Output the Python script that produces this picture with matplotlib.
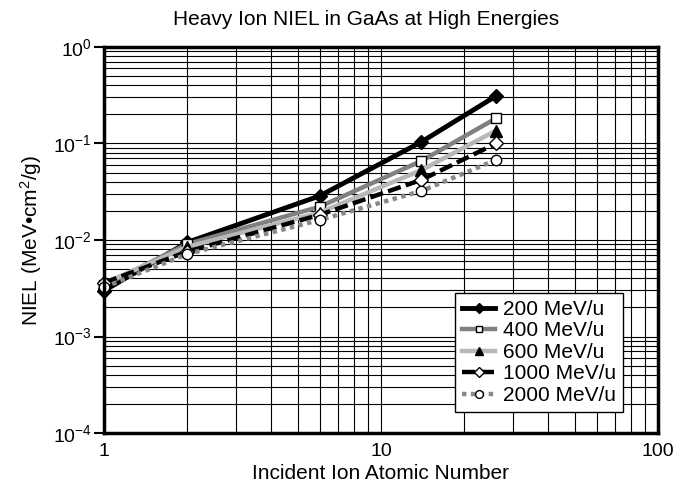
import matplotlib
matplotlib.use("Agg")
import matplotlib.pyplot as plt
from matplotlib.ticker import LogLocator, FixedLocator, NullFormatter

plt.rcParams['font.family'] = ['Liberation Sans', 'DejaVu Sans']
plt.rcParams['mathtext.fontset'] = 'custom'
plt.rcParams['mathtext.rm'] = 'Liberation Sans'
plt.rcParams['mathtext.it'] = 'Liberation Sans'
plt.rcParams['axes.unicode_minus'] = False

atomic_number = [1, 2, 6, 14, 26]
niel_200 = [0.00298, 0.00946, 0.0286, 0.104, 0.31]
niel_400 = [0.0034, 0.0091, 0.0221, 0.066, 0.182]
niel_600 = [0.00356, 0.0085, 0.0192, 0.053, 0.136]
niel_1000 = [0.0036, 0.0076, 0.0182, 0.042, 0.100]
niel_2000 = [0.00323, 0.00716, 0.0161, 0.0322, 0.0675]
series_labels = ['200 MeV/u', '400 MeV/u', '600 MeV/u', '1000 MeV/u', '2000 MeV/u']
y_tick_vals = [1e-4, 1e-3, 1e-2, 1e-1, 1e0]
y_tick_labels = ['$10^{-4}$', '$10^{-3}$', '$10^{-2}$', '$10^{-1}$', '$10^{0}$']
x_tick_vals = [1, 10, 100]
x_tick_labels = ['1', '10', '100']

fig = plt.figure(figsize=(6.84, 4.94), dpi=100)
ax = fig.add_axes([104/684, 1-433/494, (658-104)/684, (433-47)/494])
ax.set_xscale('log')
ax.set_yscale('log')
ax.set_xlim(1, 100)
ax.set_ylim(1e-4, 1)

ax.grid(True, which='both', color='black', linewidth=0.8)
ax.set_axisbelow(True)

styles = [
    dict(color='black', lw=3.5, ls='-', marker='D', ms=7, mfc='black', mec='black'),
    dict(color='#808080', lw=3.2, ls='-', marker='s', ms=6.5, mfc='white', mec='black', mew=1.0),
    dict(color='#b8b8b8', lw=3.2, ls='-', marker='^', ms=8, mfc='black', mec='black'),
    dict(color='black', lw=3.2, ls=(0, (3, 1.2)), marker='D', ms=7, mfc='white', mec='black', mew=1.0),
    dict(color='#888888', lw=3.2, ls=(0, (1, 1)), marker='o', ms=7.5, mfc='white', mec='black', mew=1.0),
]
data = [niel_200, niel_400, niel_600, niel_1000, niel_2000]
for vals, lab, st in zip(data, series_labels, styles):
    ax.plot(atomic_number, vals, label=lab, clip_on=False, **st)

ax.yaxis.set_major_locator(FixedLocator(y_tick_vals))
ax.set_yticklabels(y_tick_labels)
ax.yaxis.set_minor_locator(LogLocator(base=10, subs=range(2, 10), numticks=20))
ax.yaxis.set_minor_formatter(NullFormatter())
ax.xaxis.set_major_locator(FixedLocator(x_tick_vals))
ax.set_xticklabels(x_tick_labels)
ax.xaxis.set_minor_locator(LogLocator(base=10, subs=range(2, 10), numticks=20))
ax.xaxis.set_minor_formatter(NullFormatter())

ax.tick_params(axis='y', which='major', length=7, width=1.5, labelsize=14, direction='out', pad=2)
ax.tick_params(axis='y', which='minor', length=0)
ax.tick_params(axis='x', which='both', length=0, labelsize=14, pad=7)
for sp in ax.spines.values():
    sp.set_linewidth(2.5)

ax.set_title('Heavy Ion NIEL in GaAs at High Energies', fontsize=15, pad=16,
             x=(366-104)/554)
ax.set_xlabel('Incident Ion Atomic Number', fontsize=15, labelpad=3)
ax.set_ylabel('NIEL (MeV\u2022cm$^2$/g)', fontsize=15, labelpad=6)

leg = ax.legend(loc='lower right', bbox_to_anchor=(0.937, 0.054), fontsize=15,
                frameon=True, fancybox=False, framealpha=1, edgecolor='black',
                handlelength=1.6, handletextpad=0.35, labelspacing=0.12, borderpad=0.35,
                borderaxespad=0, markerscale=0.75)
leg.get_frame().set_linewidth(1.0)

fig.savefig('out.png', dpi=100)
